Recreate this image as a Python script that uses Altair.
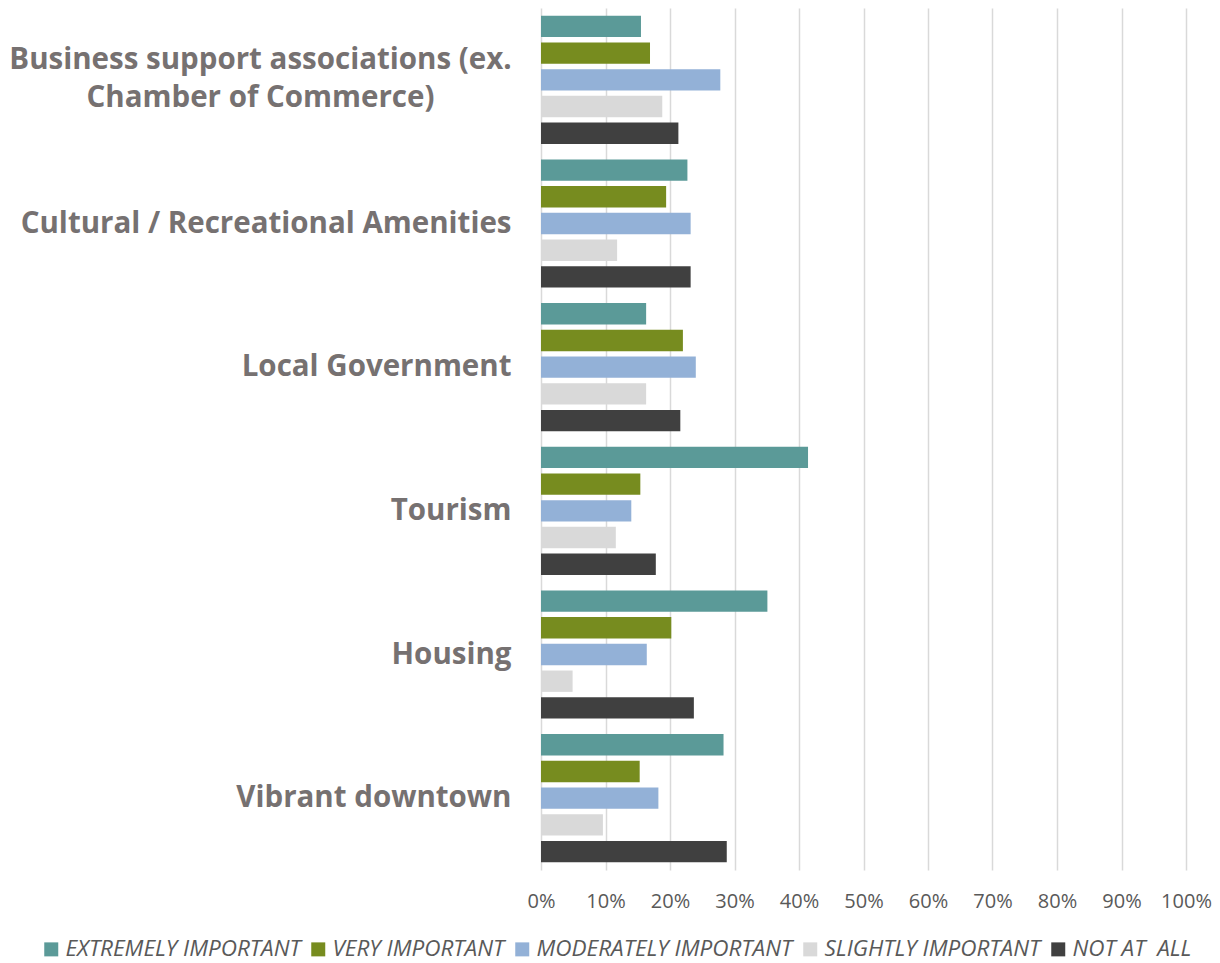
import altair as alt
import pandas as pd

categories = [
    "Business support associations (ex. Chamber of Commerce)",
    "Cultural / Recreational Amenities",
    "Local Government",
    "Tourism",
    "Housing",
    "Vibrant downtown",
]
series = ["EXTREMELY IMPORTANT", "VERY IMPORTANT", "MODERATELY IMPORTANT",
          "SLIGHTLY IMPORTANT", "NOT AT  ALL"]
colors = ["#5B9A98", "#778C1F", "#93B1D7", "#D9D9D9", "#404040"]

extremely = [15.5, 22.7, 16.3, 41.4, 35.1, 28.3]
very = [16.9, 19.4, 22.0, 15.4, 20.2, 15.3]
moderately = [27.8, 23.2, 24.0, 14.0, 16.4, 18.2]
slightly = [18.8, 11.8, 16.3, 11.6, 4.9, 9.6]
not_at_all = [21.3, 23.2, 21.6, 17.8, 23.7, 28.8]

x_ticks = [i / 10 for i in range(11)]

rows = []
for s, vals in zip(series, [extremely, very, moderately, slightly, not_at_all]):
    for c, v in zip(categories, vals):
        rows.append({"category": c, "series": s, "value": v / 100})
df = pd.DataFrame(rows)

biz = categories[0]
biz_test = f"datum.value == '{biz}'"
label_expr = (
    f"datum.label == '{biz}' ? ['Business support associations (ex.', 'Chamber of Commerce)'] : datum.label"
)
# keep the double space visible in SVG text
legend_expr = "replace(datum.label, '  ', ' \u00a0')"

chart = (
    alt.Chart(df)
    .mark_bar()
    .encode(
        x=alt.X(
            "value:Q",
            scale=alt.Scale(domain=[0, 1], nice=False),
            axis=alt.Axis(
                values=x_ticks,
                format="%",
                title=None,
                domain=False,
                ticks=False,
                tickSize=0,
                labelPadding=21,
                labelFlush=False,
                labelOverlap=False,
                labelFont="Open Sans",
                labelFontSize=20,
                labelColor="#595959",
                grid=True,
                gridColor="#D9D9D9",
                gridWidth=1.5,
            ),
        ),
        y=alt.Y(
            "category:N",
            sort=categories,
            scale=alt.Scale(paddingInner=0, paddingOuter=0),
            axis=alt.Axis(
                title=None,
                domain=False,
                ticks=False,
                grid=False,
                labelExpr=label_expr,
                labelFont="Open Sans",
                labelFontWeight="bold",
                labelFontSize=29.5,
                labelColor="#767171",
                labelLineHeight=38,
                labelAlign={"condition": {"test": biz_test, "value": "center"}, "value": "right"},
                labelPadding={"condition": {"test": biz_test, "value": 281}, "value": 30},
                labelOffset={"condition": {"test": biz_test, "value": -20}, "value": 0},
                labelLimit=600,
            ),
        ),
        yOffset=alt.YOffset(
            "series:N", sort=series,
            scale=alt.Scale(paddingInner=0.2, paddingOuter=0.29),
        ),
        color=alt.Color(
            "series:N",
            sort=series,
            scale=alt.Scale(domain=series, range=colors),
            legend=alt.Legend(
                title=None,
                orient="none",
                legendX=-501,
                legendY=930,
                direction="horizontal",
                columns=5,
                symbolType="square",
                symbolSize=196,
                symbolStrokeWidth=0,
                labelExpr=legend_expr,
                labelFont="Open Sans",
                labelFontSize=22.5,
                labelFontStyle="italic",
                labelColor="#595959",
                labelOffset=3,
                columnPadding=6,
                labelLimit=400,
            ),
        ),
    )
    .properties(
        width=645,
        height=862,
        autosize=alt.AutoSizeParams(type="none"),
        padding={"left": 533, "top": 0, "right": 26, "bottom": 93},
    )
    .configure_view(stroke=None)
)

chart.save("out.html", embed_options={"renderer": "svg", "actions": False})
